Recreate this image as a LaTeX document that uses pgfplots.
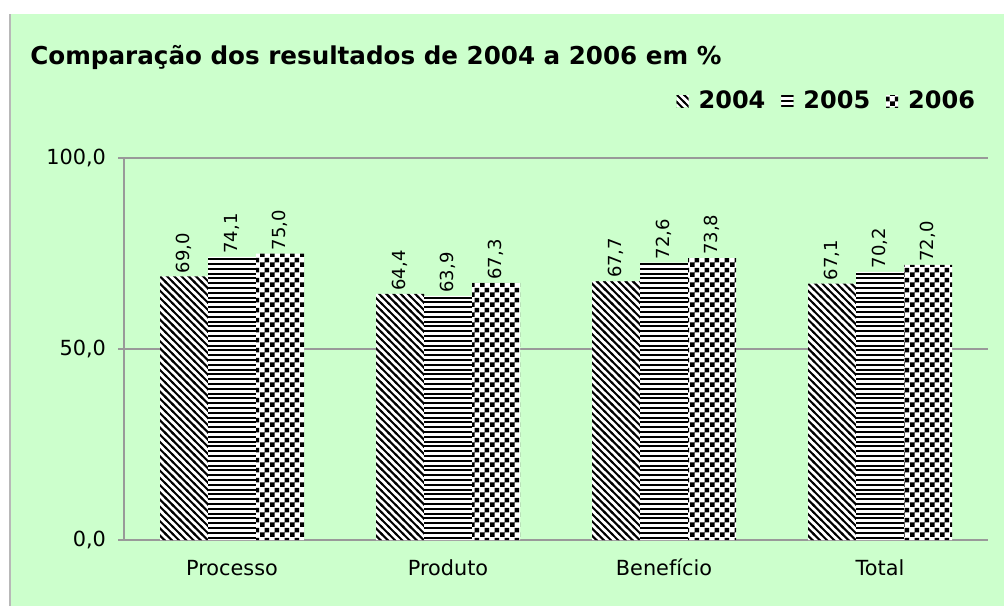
\documentclass[border=0pt]{standalone}
\usepackage{fontspec}
\setmainfont{DejaVu Sans}
\usepackage{pgfplots}
\pgfplotsset{compat=1.18}
\usetikzlibrary{patterns}
\definecolor{bg}{HTML}{CCFFCC}
\definecolor{axgray}{HTML}{999999}
\pgfdeclarepatternformonly{dlines}{\pgfqpoint{-1pt}{-1pt}}{\pgfqpoint{4.6pt}{4.6pt}}{\pgfqpoint{3.6pt}{3.6pt}}{%
  \pgfsetlinewidth{1.0pt}%
  \pgfpathmoveto{\pgfqpoint{-0.5pt}{4.1pt}}\pgfpathlineto{\pgfqpoint{4.1pt}{-0.5pt}}\pgfusepath{stroke}}
\pgfdeclarepatternformonly{hlines}{\pgfqpoint{-1pt}{-1pt}}{\pgfqpoint{3.4pt}{3.4pt}}{\pgfqpoint{2.4pt}{2.4pt}}{%
  \pgfsetlinewidth{1pt}%
  \pgfpathmoveto{\pgfqpoint{-1pt}{0.6pt}}\pgfpathlineto{\pgfqpoint{3.4pt}{0.6pt}}\pgfusepath{stroke}}
\pgfdeclarepatternformonly{smallcheck}{\pgfpointorigin}{\pgfqpoint{5pt}{5pt}}{\pgfqpoint{5pt}{5pt}}{%
  \pgfpathrectangle{\pgfpointorigin}{\pgfqpoint{2.5pt}{2.5pt}}%
  \pgfpathrectangle{\pgfqpoint{2.5pt}{2.5pt}}{\pgfqpoint{2.5pt}{2.5pt}}\pgfusepath{fill}}
\pgfplotsset{
  patleg/.style={legend image code/.code={
    \path[fill=white] (0pt,-3pt) rectangle (6pt,3pt);
    \path[##1,draw=none] (0pt,-3pt) rectangle (6pt,3pt);}}
}
\begin{document}
\begin{tikzpicture}
\fill[white] (0,0) rectangle (502pt,303pt);
\fill[bg] (5pt,0) rectangle (502pt,296pt);
\draw[axgray!70,line width=0.6pt] (5pt,0) -- (5pt,296pt);
\node[anchor=west,inner sep=0pt,font=\bfseries\fontsize{12.3}{14}\selectfont] at (15pt,274.5pt) {Comparação dos resultados de 2004 a 2006 em \%};
\begin{axis}[
  at={(62pt,33pt)}, anchor=south west,
  width=432pt, height=191pt, scale only axis,
  xmin=-0.5, xmax=3.5, ymin=0, ymax=100,
  ybar=0pt, bar width=24pt,
  axis lines*=left,
  axis line style={axgray, line width=0.6pt},
  xtick={0,1,2,3},
  xticklabels={Processo,Produto,Benefício,Total},
  major x tick style={draw=none},
  extra x ticks={-0.5,0.5,1.5,2.5,3.5},
  extra x tick labels={},
  extra x tick style={major tick length=5pt, tick style={axgray, line width=0.6pt}, xtick pos=bottom, tick align=outside, grid=none},
  ytick={0,50,100},
  tick align=outside,
  major tick length=3pt,
  tick style={axgray, line width=0.6pt},
  ymajorgrids,
  grid style={axgray, line width=0.6pt},
  yticklabel style={xshift=-2.5pt,/pgf/number format/.cd, fixed, fixed zerofill, precision=1, use comma, assume math mode=true},
  ticklabel style={font=\fontsize{10.4}{12}\selectfont},
  xticklabel style={yshift=-3pt, text height=8pt, text depth=2pt},
  nodes near coords,
  every node near coord/.append style={rotate=90, anchor=west, inner sep=1.5pt, font=\fontsize{9}{11}\selectfont, /pgf/number format/.cd, fixed, fixed zerofill, precision=1, use comma, assume math mode=true},
  legend style={at={(0.997,1.149)}, anchor=east, draw=none, fill=none, legend columns=3,
    font=\bfseries\fontsize{12}{14}\selectfont,
    /tikz/every odd column/.append style={column sep=3pt},
    /tikz/every even column/.append style={column sep=6pt}},
  legend cell align=left,
]
\addplot[draw=none, preaction={fill=white}, pattern=dlines, patleg] coordinates {(0,69.0) (1,64.4) (2,67.7) (3,67.1)};
\addplot[draw=none, preaction={fill=white}, pattern=hlines, patleg] coordinates {(0,74.1) (1,63.9) (2,72.6) (3,70.2)};
\addplot[draw=none, preaction={fill=white}, pattern=smallcheck, patleg] coordinates {(0,75.0) (1,67.3) (2,73.8) (3,72.0)};
\legend{2004,2005,2006}
\end{axis}
\pgfresetboundingbox
\path (0,0) rectangle (502pt,303pt);
\end{tikzpicture}
\end{document}
